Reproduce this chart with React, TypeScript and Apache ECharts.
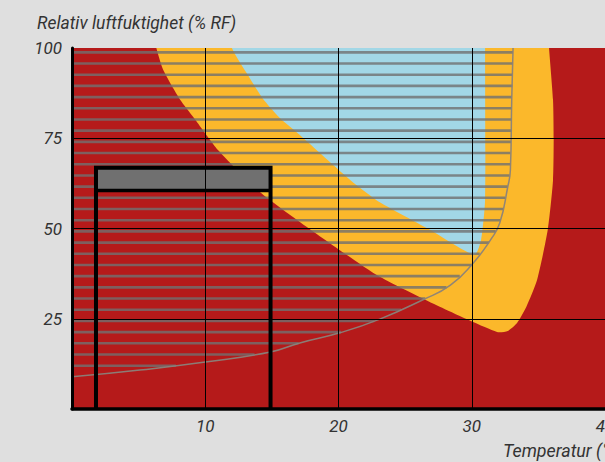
import React, { useEffect, useRef } from "react";
import * as echarts from "echarts";

// Zones: [temperature °C, relative humidity %]
const yellowZone: [number, number][] = [
  [6.0, 106], [6.33, 100], [6.85, 93.9], [8.13, 85.6], [9.1, 80.9], [10.97, 71.7],
  [14.1, 60.1], [17.1, 51.8], [20.1, 44.0], [23.1, 36.6], [27.6, 28.3],
  [31.9, 21.3], [32.7, 21.6], [33.4, 23.8], [34.1, 28.3], [34.9, 35.7],
  [35.7, 49.6], [36.1, 63.4], [36.15, 74.8], [36.1, 85.6], [35.8, 100], [35.7, 106],
];

const blueZone: [number, number][] = [
  [11.7, 106], [12.0, 100], [13.2, 92.5], [14.3, 86.1], [15.6, 80.6], [17.1, 75.9],
  [20.9, 63.4], [23.1, 57.3], [26.9, 49.6], [30.2, 42.7], [30.7, 46.8],
  [31.0, 57.9], [31.0, 100], [31.0, 106],
];

const limitCurve: [number, number][] = [
  [0, 8.9], [5.1, 10.8], [10.0, 13.0], [14.9, 15.8], [17.1, 18.3], [20.1, 21.1],
  [23.1, 24.9], [26.3, 30.2], [28.4, 34.3], [30.1, 40.4], [31.4, 46.8],
  [32.1, 51.5], [32.7, 61.5], [32.9, 66.2], [33.0, 85.6], [33.1, 100],
];

const hatchRH = [
  12.0, 15.1, 18.2, 21.3, 24.4, 27.5, 30.6, 33.7, 36.8, 39.9, 43.0, 46.1, 49.2,
  52.3, 55.4, 58.5, 61.6, 64.7, 67.8, 70.9, 74.0, 77.1, 80.2, 83.3, 86.4, 89.5,
  92.6, 95.7, 98.8,
];
const hatchEndT = [
  7.8, 13.7, 17.0, 20.2, 22.7, 24.7, 26.5, 28.1, 29.1, 30.0, 30.6, 31.3, 31.8,
  32.15, 32.35, 32.5, 32.7, 32.85, 32.9, 32.9, 32.95, 33.0, 33.0, 33.0, 33.0,
  33.05, 33.05, 33.1, 33.1,
];

// Frame: temperature span and humidity levels (bar bottom, top)
const frameT = [1.8, 14.9];
const frameRH = [60.5, 66.8];

const xTickLabels = ["10", "20", "30", "40"];
const yTickLabels = ["25", "50", "75", "100"];

const fontFamily = "Roboto, 'Open Sans', sans-serif";

function zoneSeries(points: [number, number][], color: string, z: number) {
  return {
    type: "custom",
    coordinateSystem: "cartesian2d",
    silent: true,
    clip: true,
    z,
    data: [points[0]],
    renderItem: (_params: any, api: any) => ({
      type: "polygon",
      shape: { points: points.map((p) => api.coord(p)), smooth: 0.2 },
      style: { fill: color },
    }),
  };
}

export default function App() {
  const ref = useRef<HTMLDivElement>(null);

  useEffect(() => {
    if (!ref.current) return;
    const chart = echarts.init(ref.current, undefined, { renderer: "svg" });

    const axisLabelStyle = {
      fontStyle: "italic" as const,
      fontSize: 17,
      color: "#333",
      fontFamily,
    };

    chart.setOption({
      animation: false,
      backgroundColor: "#dfdfdf",
      grid: {
        left: 72,
        right: 0,
        top: 48,
        bottom: 53,
        show: true,
        backgroundColor: "#b51a1a",
        borderWidth: 0,
        containLabel: false,
        outerBoundsMode: "none",
      },
      xAxis: {
        type: "value",
        min: 0,
        max: 40,
        interval: 10,
        z: 10,
        axisLine: { show: true, lineStyle: { color: "#000", width: 3.5 } },
        axisTick: { show: false },
        splitLine: { show: true, showMaxLine: false, lineStyle: { color: "#000", width: 1 } },
        axisLabel: {
          ...axisLabelStyle,
          margin: 8,
          showMinLabel: false,
          hideOverlap: false,
          formatter: (v: number) => xTickLabels[v / 10 - 1] ?? "",
        },
      },
      yAxis: {
        type: "value",
        min: 0,
        max: 100,
        interval: 25,
        z: 10,
        axisLine: { show: true, lineStyle: { color: "#000", width: 3 } },
        axisTick: { show: false },
        splitLine: { show: true, showMaxLine: false, lineStyle: { color: "#000", width: 1 } },
        axisLabel: {
          ...axisLabelStyle,
          margin: 10,
          showMinLabel: false,
          formatter: (v: number) => yTickLabels[v / 25 - 1] ?? "",
        },
      },
      graphic: [
        {
          type: "text",
          x: 37,
          y: 22,
          scaleX: 0.92,
          style: {
            text: "Relativ luftfuktighet (% RF)",
            fontStyle: "italic",
            fontSize: 19,
            fontFamily,
            fill: "#333",
            align: "left",
            verticalAlign: "middle",
          },
        },
        {
          type: "text",
          x: 503,
          y: 450,
          scaleX: 0.94,
          style: {
            text: "Temperatur (°C)",
            fontStyle: "italic",
            fontSize: 19,
            fontFamily,
            fill: "#333",
            align: "left",
            verticalAlign: "middle",
          },
        },
      ],
      series: [
        zoneSeries(yellowZone, "#fbb82b", 1),
        zoneSeries(blueZone, "#a2d7e6", 2),
        {
          type: "custom",
          coordinateSystem: "cartesian2d",
          silent: true,
          z: 3,
          data: hatchRH.map((rh, i) => [hatchEndT[i], rh]),
          renderItem: (_params: any, api: any) => {
            const endT = api.value(0);
            const rh = api.value(1);
            const a = api.coord([0, rh]);
            const b = api.coord([endT, rh]);
            return {
              type: "line",
              shape: { x1: a[0], y1: a[1], x2: b[0], y2: b[1] },
              style: { stroke: "rgba(112,112,112,0.8)", lineWidth: 2.6 },
            };
          },
        },
        {
          type: "line",
          silent: true,
          z: 4,
          smooth: true,
          symbol: "none",
          data: limitCurve,
          lineStyle: { color: "rgba(138,130,122,0.95)", width: 1.5 },
        },
        {
          type: "custom",
          coordinateSystem: "cartesian2d",
          silent: true,
          z: 5,
          data: [[frameT[0], frameRH[1]]],
          renderItem: (_params: any, api: any) => {
            const tl = api.coord([frameT[0], frameRH[1]]);
            const br = api.coord([frameT[1], frameRH[0]]);
            const bl = api.coord([frameT[0], 0]);
            const brBottom = api.coord([frameT[1], 0]);
            return {
              type: "group",
              children: [
                {
                  type: "rect",
                  shape: { x: tl[0], y: tl[1], width: br[0] - tl[0], height: br[1] - tl[1] },
                  style: { fill: "#707070" },
                },
                {
                  type: "polyline",
                  shape: { points: [bl, [bl[0], tl[1]], [brBottom[0], tl[1]], brBottom] },
                  style: { stroke: "#000", lineWidth: 4, fill: "none" },
                },
                {
                  type: "line",
                  shape: { x1: tl[0], y1: br[1], x2: br[0], y2: br[1] },
                  style: { stroke: "#000", lineWidth: 3.5 },
                },
              ],
            };
          },
        },
      ],
    });

    return () => chart.dispose();
  }, []);

  return (
    <div
      ref={ref}
      style={{ position: "fixed", left: 0, top: 0, width: 605, height: 462 }}
    />
  );
}
